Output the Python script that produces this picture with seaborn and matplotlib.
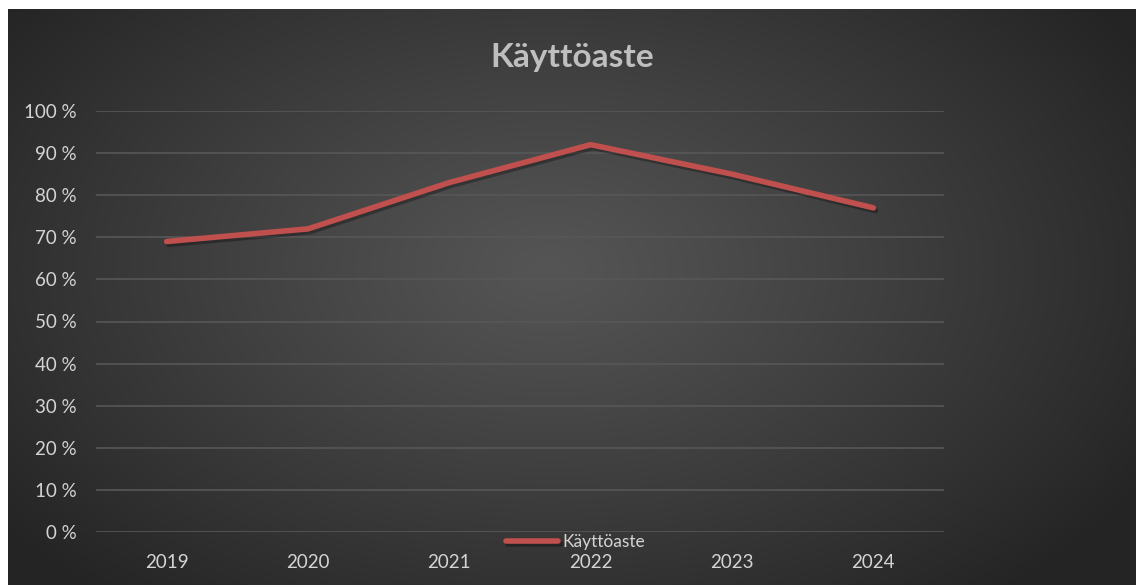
import numpy as np
import pandas as pd
import matplotlib
matplotlib.use("Agg")
import matplotlib.pyplot as plt
import matplotlib.patheffects as pe
from matplotlib.ticker import FuncFormatter
import seaborn as sns

# data
years = ["2019", "2020", "2021", "2022", "2023", "2024"]
kayttoaste = [0.69, 0.72, 0.83, 0.92, 0.85, 0.77]
series_name = "Käyttöaste"

frame = pd.DataFrame({"Vuosi": years, "Arvo": kayttoaste})

sns.set_theme(style="dark")
plt.rcParams["font.family"] = ["Lato", "DejaVu Sans"]

W, H = 1136, 585
fig = plt.figure(figsize=(W / 100, H / 100), dpi=100, facecolor="white")

# radial gradient background, like the office chart style
bg = fig.add_axes([8 / W, 0, 1 - 8 / W, 1 - 9 / H])
bg.set_axis_off()
gx, gy = np.meshgrid(np.linspace(0, 1, 400), np.linspace(0, 1, 220))
r = np.sqrt(((gx - 0.48) / 0.62) ** 2 + ((gy - 0.55) / 0.75) ** 2)
r = np.clip(r, 0, 1)
shade = 0x55 / 255 + (0x24 / 255 - 0x55 / 255) * r ** 1.1
bg.imshow(np.dstack([shade, shade, shade]), aspect="auto", extent=[0, 1, 0, 1],
          origin="lower", interpolation="bilinear")

ax = fig.add_axes([96 / W, 1 - 532 / H, (944 - 96) / W, (532 - 111) / H])
ax.patch.set_alpha(0)

line_col = "#C0504D"
sns.lineplot(data=frame, x="Vuosi", y="Arvo", ax=ax, color=line_col, linewidth=4,
             label=series_name, sort=False,
             path_effects=[pe.SimpleLineShadow(offset=(1.5, -2), alpha=0.3, shadow_color="black"),
                           pe.Normal()])
for l in ax.get_lines():
    l.set_solid_capstyle("round")
    l.set_solid_joinstyle("miter")

ax.set_xlim(-0.5, len(years) - 0.5)
ax.set_ylim(0, 1.0)
ax.set_yticks(np.arange(0, 1.01, 0.1))
ax.yaxis.set_major_formatter(FuncFormatter(lambda v, p: f"{v * 100:.0f} %"))
ax.grid(axis="y", color="#575757", linewidth=1.2)
ax.grid(axis="x", visible=False)
for s in ax.spines.values():
    s.set_visible(False)

tick_col = "#d4d4d4"
ax.tick_params(axis="y", colors=tick_col, labelsize=13.5, pad=14, length=0)
ax.tick_params(axis="x", colors=tick_col, labelsize=13.5, pad=16, length=0)
ax.set_xlabel("")
ax.set_ylabel("")

fig.text(572 / W, 1 - 58 / H, "Käyttöaste", ha="center", va="center",
         fontsize=24, fontweight="bold", color="#bfbfbf")

leg = ax.legend(loc="center", bbox_to_anchor=(576 / W, 1 - 542 / H),
                bbox_transform=fig.transFigure, frameon=False, fontsize=12.5,
                handlelength=3.0, handletextpad=0.25, labelcolor=tick_col)

fig.savefig("out.png", dpi=100, facecolor="white")
